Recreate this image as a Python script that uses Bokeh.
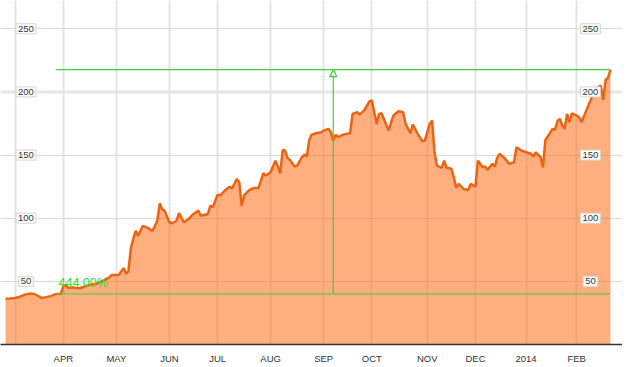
from bokeh.plotting import figure
from bokeh.models import FixedTicker, Range1d, Span, Arrow, NormalHead, ColumnDataSource
from bokeh.embed import file_html
from bokeh.resources import INLINE
from bokeh.core.properties import value

# trading-session index (0 = first session shown) and closing price
day = [0, 2, 4, 6, 8, 10, 12, 14, 15, 17, 19, 21, 23, 24, 25, 26, 28, 30, 31, 33,
       34, 36, 38, 41, 43, 44, 47, 49, 50, 51, 52, 53, 54, 55, 57, 59, 61, 63, 64, 65,
       66, 68, 69, 71, 72, 74, 76, 78, 80, 81, 84, 85, 86, 88, 89, 91, 93, 94, 96, 97,
       98, 99, 101, 103, 105, 107, 108, 110, 112, 113, 114, 115, 116, 117, 118, 120, 121, 123, 124, 125,
       126, 127, 129, 131, 132, 134, 135, 136, 137, 138, 140, 143, 144, 146, 147, 149, 151, 152, 153, 154,
       155, 156, 159, 160, 161, 163, 165, 166, 168, 169, 171, 173, 174, 176, 177, 178, 179, 181, 182, 183,
       185, 186, 187, 188, 190, 192, 193, 195, 196, 198, 199, 200, 202, 203, 204, 205, 207, 209, 211, 212,
       214, 216, 218, 219, 220, 222, 223, 224, 225, 227, 228, 229, 230, 231, 232, 233, 234, 235, 237, 238,
       239, 241, 243, 244, 247, 248, 249, 250, 251]
price = [36.3, 36.5, 36.8, 37.8, 39.5, 40.3, 40.0, 38.0, 36.8, 37.5, 38.5, 40.0, 40.2, 46.5, 47.0, 44.8, 45.2, 44.6, 44.5, 46.0,
         46.8, 47.5, 48.3, 51.0, 53.0, 55.0, 55.0, 60.5, 56.0, 58.0, 76.0, 83.6, 90.0, 86.0, 94.0, 92.4, 90.0, 98.0, 111.8, 107.0,
         106.0, 96.8, 96.0, 98.0, 104.0, 96.8, 99.4, 103.4, 106.0, 102.0, 103.4, 110.0, 108.6, 118.7, 117.9, 121.9, 125.0, 123.5, 131.0, 128.4,
         110.0, 118.0, 122.0, 124.0, 124.0, 135.6, 133.8, 136.4, 145.6, 140.9, 135.6, 154.0, 153.6, 147.8, 146.2, 140.9, 141.7, 148.3, 150.4, 148.8,
         161.5, 166.2, 167.3, 168.1, 169.4, 170.8, 168.1, 161.5, 166.2, 164.1, 166.2, 167.3, 182.6, 183.9, 182.1, 185.8, 192.6, 193.2, 183.9, 174.7,
         182.6, 183.1, 169.4, 176.0, 181.3, 184.7, 183.9, 174.7, 167.3, 174.2, 166.8, 160.9, 161.5, 174.7, 177.3, 152.2, 141.7, 139.9, 145.6, 139.9,
         139.1, 132.4, 124.0, 127.2, 123.2, 122.4, 127.2, 125.0, 145.6, 140.3, 140.9, 138.3, 143.0, 140.9, 147.8, 151.0, 147.8, 143.0, 144.3, 156.2,
         153.6, 152.2, 151.0, 148.8, 152.2, 148.3, 140.3, 162.0, 164.7, 170.8, 170.0, 176.8, 178.7, 173.4, 170.8, 182.6, 176.0, 183.1, 181.3, 180.0,
         176.0, 185.3, 194.5, 201.1, 205.0, 193.7, 209.6, 211.2, 217.65]

month_ticks = [4, 24, 46, 68, 88, 110, 132, 152, 175, 195, 216, 237]
month_labels = ["", "APR", "MAY", "JUN", "JUL", "AUG", "SEP", "OCT", "NOV", "DEC", "2014", "FEB"]
y_ticks = [50, 100, 150, 200, 250]

base_day = 21
base_value = 40.0
change_label = "444.00%"

GREEN = "#3fd13f"
FONT = "Liberation Sans"

p = figure(frame_width=622, frame_height=344,
           x_range=Range1d(-2.07, 256.0), y_range=Range1d(0, 272.4),
           output_backend="svg", toolbar_location=None,
           y_axis_location=None, min_border=0, outline_line_color=None)

# grid
p.xgrid.ticker = FixedTicker(ticks=month_ticks)
p.xgrid.grid_line_color = "#e4e4e4"
p.xgrid.grid_line_width = 2
p.ygrid.ticker = FixedTicker(ticks=y_ticks)
p.ygrid.grid_line_color = "#d9d9d9"
p.ygrid.grid_line_width = 1
p.add_layout(Span(location=y_ticks[3], dimension="width", line_color="#e6e6e6",
                  line_width=3, level="underlay"))

# area + line
p.varea(x=day, y1=0, y2=price, fill_color="#FF640A", fill_alpha=0.52)
p.line(day, price, line_color="#EB6414", line_width=2.5)

# performance annotation
end_day = day[-1]
end_value = price[-1]
mid_day = (base_day + end_day) / 2
p.segment(x0=[base_day, base_day], y0=[base_value, end_value],
          x1=[end_day, end_day], y1=[base_value, end_value],
          line_color=GREEN, line_width=1.2)
p.add_layout(Arrow(end=NormalHead(size=7, fill_color="white", line_color=GREEN, line_width=1.2),
                   x_start=mid_day, y_start=base_value, x_end=mid_day, y_end=end_value,
                   line_color=GREEN, line_width=1.2))
p.text(x=[base_day + 1], y=[base_value], text=[change_label],
       text_font=value(FONT), text_font_size="12.5px", text_color="#33dd33",
       text_align="left", text_baseline="middle", y_offset=-11)

# boxed y labels (left and right)
for xpos in (8.5, 242.7):
    src = ColumnDataSource(dict(x=[xpos] * len(y_ticks), y=y_ticks,
                                t=[str(v) for v in y_ticks]))
    p.text(x="x", y="y", text="t", source=src,
           text_font=value(FONT), text_font_size="9.5px", text_color="#333333",
           text_align="center", text_baseline="middle",
           background_fill_color="white", border_line_color="#d4d4d4",
           border_line_width=1, padding=2)

# x axis
xa = p.xaxis[0]
xa.ticker = FixedTicker(ticks=month_ticks)
xa.major_label_overrides = {t: lab for t, lab in zip(month_ticks, month_labels)}
xa.major_tick_line_color = None
xa.minor_tick_line_color = None
xa.axis_line_color = "#333333"
xa.axis_line_width = 1.5
xa.major_label_text_font = FONT
xa.major_label_text_font_size = "9.5px"
xa.major_label_text_color = "#333333"
xa.major_label_standoff = 2

open("out.html", "w").write(file_html(p, INLINE))
